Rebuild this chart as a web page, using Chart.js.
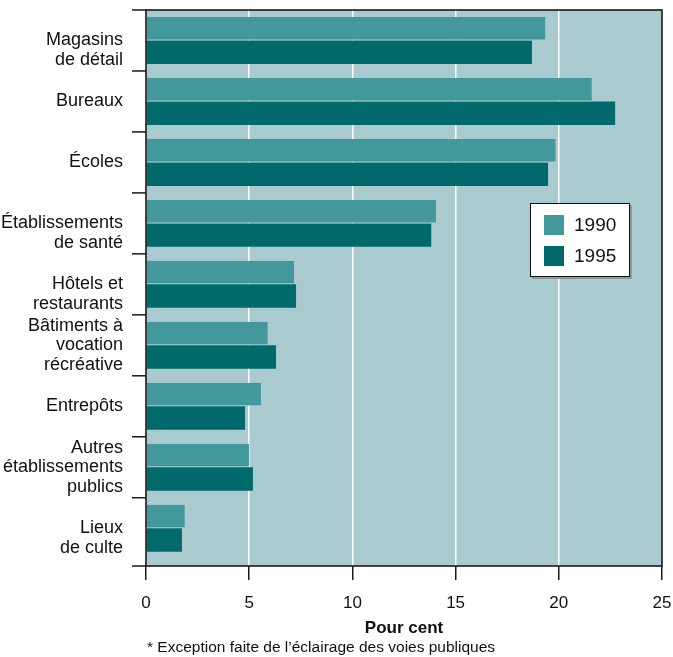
<!DOCTYPE html>
<html>
<head>
<meta charset="utf-8">
<script src="https://cdn.jsdelivr.net/npm/chart.js@4"></script>
<style>
  html, body { margin: 0; padding: 0; background: #ffffff; }
  #wrap { width: 673px; height: 657px; }
</style>
</head>
<body>
<div id="wrap"><canvas id="c" width="673" height="657"></canvas></div>
<script>
const categories = [
  ["Magasins", "de détail"],
  ["Bureaux"],
  ["Écoles"],
  ["Établissements", "de santé"],
  ["Hôtels et", "restaurants"],
  ["Bâtiments à", "vocation", "récréative"],
  ["Entrepôts"],
  ["Autres", "établissements", "publics"],
  ["Lieux", "de culte"]
];
const seriesNames = ["1990", "1995"];
const values1990 = [19.35, 21.6, 19.85, 14.05, 7.17, 5.9, 5.57, 4.99, 1.88];
const values1995 = [18.7, 22.73, 19.48, 13.82, 7.27, 6.3, 4.8, 5.18, 1.74];
const xTicks = [0, 5, 10, 15, 20, 25];
const xTitle = "Pour cent";
const footnote = "* Exception faite de l\u2019éclairage des voies publiques";

const FONT = "'Liberation Sans', Arial, sans-serif";
const PLOT_BG = "#a9cbcf";
const C1990 = "#42989b";
const C1995 = "#006a6a";

const plotDecor = {
  id: "plotDecor",
  beforeDraw(chart) {
    const { ctx, chartArea: a } = chart;
    ctx.save();
    ctx.fillStyle = PLOT_BG;
    ctx.fillRect(a.left, a.top, a.right - a.left, a.bottom - a.top);
    ctx.restore();
  },
  afterDraw(chart) {
    const { ctx, chartArea: a } = chart;
    const y = chart.scales.y;
    ctx.save();
    // y-axis tick marks at category boundaries
    ctx.strokeStyle = "#1a1a1a";
    ctx.lineWidth = 1.5;
    const n = categories.length;
    for (let i = 0; i <= n; i++) {
      const py = i < n ? y.getPixelForValue(i - 0.5) : a.bottom;
      ctx.beginPath();
      ctx.moveTo(a.left - 14, py);
      ctx.lineTo(a.left, py);
      ctx.stroke();
    }
    // frame
    ctx.strokeStyle = "#1a1a1a";
    ctx.lineWidth = 1.6;
    ctx.strokeRect(a.left, a.top, a.right - a.left, a.bottom - a.top);

    // legend box
    const lx = 530, ly = 203, lw = 100, lh = 74;
    ctx.fillStyle = "#8a9a9c";
    ctx.fillRect(lx + 2, ly + 2, lw, lh);
    ctx.fillStyle = "#ffffff";
    ctx.fillRect(lx, ly, lw, lh);
    ctx.strokeStyle = "#111";
    ctx.lineWidth = 1;
    ctx.strokeRect(lx + 0.5, ly + 0.5, lw - 1, lh - 1);
    const ds = chart.data.datasets;
    ctx.font = "19px " + FONT;
    ctx.textBaseline = "middle";
    ctx.textAlign = "left";
    ds.forEach((d, i) => {
      const sy = ly + 12 + i * 31;
      ctx.fillStyle = d.backgroundColor;
      ctx.fillRect(lx + 14, sy, 20, 20);
      ctx.fillStyle = "#111";
      ctx.fillText(d.label, lx + 44, sy + 11);
    });

    // footnote
    ctx.font = "15.5px " + FONT;
    ctx.fillStyle = "#111";
    ctx.textAlign = "left";
    ctx.textBaseline = "middle";
    ctx.fillText(footnote, 147, 648);
    ctx.restore();
  }
};

new Chart(document.getElementById("c"), {
  type: "bar",
  data: {
    labels: categories,
    datasets: [
      { label: seriesNames[0], data: values1990, backgroundColor: C1990,
        borderColor: PLOT_BG, borderWidth: { top: 0, left: 0, right: 0, bottom: 1 }, borderSkipped: false },
      { label: seriesNames[1], data: values1995, backgroundColor: C1995, borderWidth: 0 }
    ]
  },
  options: {
    indexAxis: "y",
    responsive: false,
    animation: false,
    events: [],
    layout: { padding: { top: 10, right: 11, left: 0, bottom: 0 } },
    datasets: { bar: { categoryPercentage: 0.77, barPercentage: 1.0 } },
    plugins: {
      legend: { display: false },
      tooltip: { enabled: false },
      title: { display: false }
    },
    scales: {
      x: {
        type: "linear",
        min: xTicks[0],
        max: xTicks[xTicks.length - 1],
        afterBuildTicks: (s) => { s.ticks = xTicks.map(v => ({ value: v })); },
        afterFit: (s) => { s.height = 91; s.paddingLeft = 0; s.paddingRight = 0; },
        grid: {
          color: (c) => (c.tick && (c.tick.value === 0 || c.tick.value === 25)) ? "rgba(0,0,0,0)" : "#ffffff",
          lineWidth: 1.5,
          tickColor: "#1a1a1a",
          tickLength: 14,
          tickWidth: 1.5
        },
        border: { display: false },
        ticks: {
          color: "#111",
          font: { family: FONT, size: 17 },
          padding: 13,
          maxRotation: 0
        },
        title: {
          display: true,
          text: xTitle,
          color: "#111",
          font: { family: FONT, size: 17, weight: "bold" },
          padding: { top: 0, bottom: 18 }
        }
      },
      y: {
        type: "category",
        afterBuildTicks: (s) => { s._valueRange += 0.12; },
        afterFit: (s) => { s.width = 146; s.paddingTop = 0; s.paddingBottom = 0; },
        grid: { display: false },
        border: { display: false },
        ticks: {
          color: "#111",
          font: { family: FONT, size: 18, lineHeight: 1.08 },
          padding: 15,
          crossAlign: "near",
          autoSkip: false,
          // two-line labels sit with their first line near the band centre, as in the original
          callback: function (value) {
            const lines = this.getLabelForValue(value);
            return (Array.isArray(lines) && lines.length === 2) ? [""].concat(lines) : lines;
          }
        }
      }
    }
  },
  plugins: [plotDecor]
});
</script>
</body>
</html>
